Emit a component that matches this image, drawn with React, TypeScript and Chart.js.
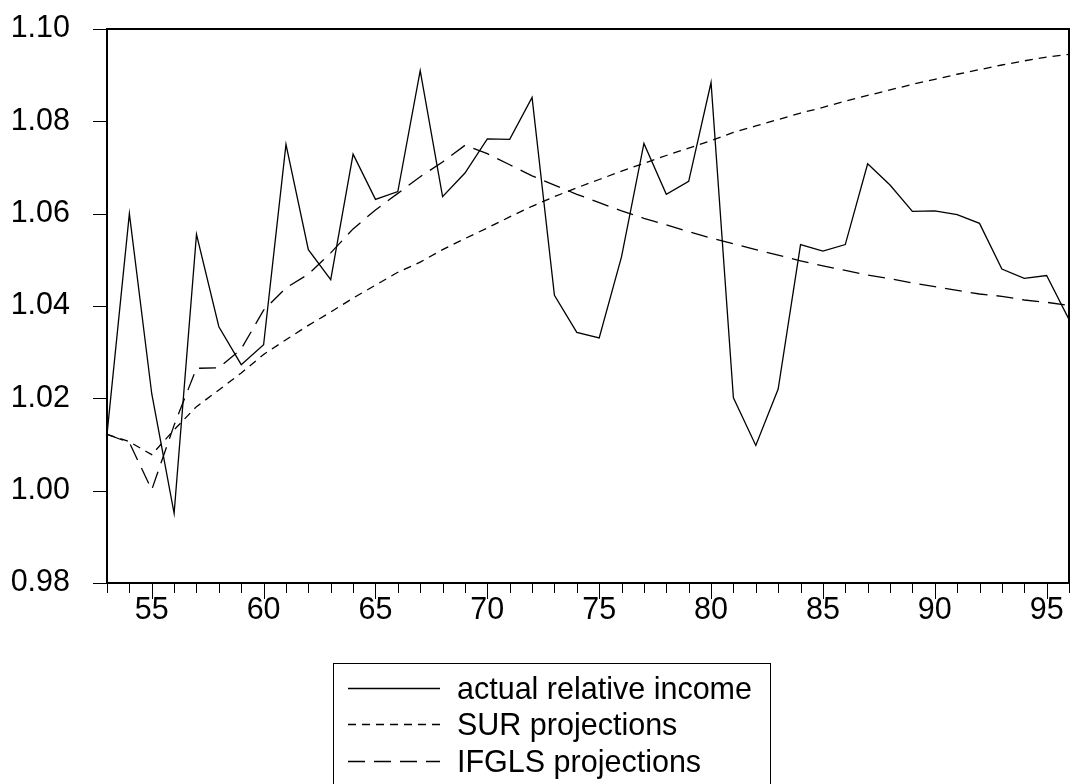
import React, { useEffect, useRef } from "react";
import { Chart, registerables } from "chart.js";

Chart.register(...registerables);

const years = [53, 54, 55, 56, 57, 58, 59, 60, 61, 62, 63, 64, 65, 66, 67, 68, 69, 70, 71, 72, 73, 74, 75, 76, 77, 78, 79, 80, 81, 82, 83, 84, 85, 86, 87, 88, 89, 90, 91, 92, 93, 94, 95, 96];

const actualRelativeIncome = [1.0122, 1.06, 1.021, 0.9951, 1.0555, 1.0355, 1.0273, 1.0316, 1.075, 1.0522, 1.0457, 1.0729, 1.0631, 1.0648, 1.091, 1.0637, 1.0688, 1.0762, 1.0761, 1.0852, 1.0423, 1.0343, 1.0331, 1.0507, 1.0752, 1.0642, 1.067, 1.0884, 1.0201, 1.0098, 1.022, 1.0533, 1.0519, 1.0533, 1.0708, 1.0662, 1.0605, 1.0606, 1.0598, 1.0579, 1.048, 1.046, 1.0466, 1.0371];

const surProjections = [1.0122, 1.0106, 1.0078, 1.0132, 1.0182, 1.0218, 1.0255, 1.0295, 1.0327, 1.0358, 1.0387, 1.0417, 1.0445, 1.0473, 1.0495, 1.0522, 1.0546, 1.0569, 1.0593, 1.0616, 1.0637, 1.0656, 1.0674, 1.0692, 1.0709, 1.0726, 1.0742, 1.0758, 1.0776, 1.079, 1.0804, 1.0818, 1.083, 1.0844, 1.0856, 1.0868, 1.088, 1.0891, 1.0902, 1.0912, 1.0922, 1.0931, 1.0939, 1.0945];

const ifglsProjections = [1.0122, 1.0104, 1.0002, 1.0142, 1.0265, 1.0266, 1.0307, 1.0391, 1.0439, 1.0469, 1.0515, 1.0567, 1.0608, 1.0644, 1.068, 1.0712, 1.0748, 1.073, 1.0706, 1.0682, 1.0662, 1.0642, 1.0624, 1.0606, 1.059, 1.0576, 1.0561, 1.0547, 1.0535, 1.0522, 1.051, 1.0498, 1.0487, 1.0477, 1.0467, 1.0459, 1.045, 1.0442, 1.0434, 1.0426, 1.0421, 1.0413, 1.0408, 1.0401];

const seriesLabels = ["actual relative income", "SUR projections", "IFGLS projections"];
const xTickLabels = [55, 60, 65, 70, 75, 80, 85, 90, 95];
const yTickLabels = [0.98, 1.0, 1.02, 1.04, 1.06, 1.08, 1.1];

const FONT_FAMILY = '"Liberation Sans", Arial, Helvetica, sans-serif';
const FONT_SIZE = 30.5;

const framePlugin = {
  id: "eviewsFrame",
  afterDraw(chart: any) {
    const ctx = chart.ctx as CanvasRenderingContext2D;
    const area = chart.chartArea;
    const xs = chart.scales.x;
    const ys = chart.scales.y;
    ctx.save();
    ctx.strokeStyle = "#000";
    ctx.lineWidth = 1;
    ctx.beginPath();
    for (const yr of years) {
      const px = Math.round(xs.getPixelForValue(yr)) + 0.5;
      const len = xTickLabels.includes(yr) ? 16 : 10;
      ctx.moveTo(px, area.bottom);
      ctx.lineTo(px, area.bottom + len);
    }
    for (const v of yTickLabels) {
      const py = Math.round(ys.getPixelForValue(v)) + 0.5;
      ctx.moveTo(area.left - 14, py);
      ctx.lineTo(area.left, py);
    }
    ctx.stroke();
    ctx.lineWidth = 2;
    ctx.strokeRect(area.left, area.top, area.right - area.left, area.bottom - area.top);

    // legend
    const boxLeft = 333.5;
    const boxTop = 663.5;
    const boxRight = 770.5;
    const boxBottom = 820;
    ctx.lineWidth = 1;
    ctx.strokeStyle = "#000";
    ctx.strokeRect(boxLeft, boxTop, boxRight - boxLeft, boxBottom - boxTop);
    const rowY = [688, 724, 761];
    chart.data.datasets.forEach((ds: any, i: number) => {
      const y = rowY[i] + 0.5;
      ctx.save();
      ctx.strokeStyle = ds.borderColor;
      ctx.lineWidth = ds.borderWidth;
      ctx.setLineDash(ds.borderDash || []);
      ctx.beginPath();
      ctx.moveTo(348, y);
      ctx.lineTo(440, y);
      ctx.stroke();
      ctx.restore();
      ctx.fillStyle = "#000";
      ctx.font = `${FONT_SIZE}px ${FONT_FAMILY}`;
      ctx.textBaseline = "middle";
      ctx.textAlign = "left";
      ctx.fillText(ds.label, 457, y + 2);
    });
    ctx.restore();
  },
};

export default function App() {
  const canvasRef = useRef<HTMLCanvasElement | null>(null);

  useEffect(() => {
    if (!canvasRef.current) return;
    const toPoints = (vals: number[]) => years.map((yr, i) => ({ x: yr, y: vals[i] }));
    const chart = new Chart(canvasRef.current, {
      type: "line",
      data: {
        datasets: [
          {
            label: seriesLabels[0],
            data: toPoints(actualRelativeIncome),
            borderColor: "#000",
            borderWidth: 1.3,
            pointRadius: 0,
            tension: 0,
            fill: false,
          },
          {
            label: seriesLabels[1],
            data: toPoints(surProjections),
            borderColor: "#000",
            borderWidth: 1.3,
            borderDash: [8, 6],
            pointRadius: 0,
            tension: 0,
            fill: false,
          },
          {
            label: seriesLabels[2],
            data: toPoints(ifglsProjections),
            borderColor: "#000",
            borderWidth: 1.3,
            borderDash: [17, 9],
            pointRadius: 0,
            tension: 0,
            fill: false,
          },
        ],
      },
      options: {
        animation: false,
        responsive: false,
        maintainAspectRatio: false,
        layout: { padding: { top: 29, right: 3, left: 0, bottom: 0 } },
        plugins: {
          legend: { display: false },
          tooltip: { enabled: false },
        },
        scales: {
          x: {
            type: "linear",
            min: 53,
            max: 96,
            afterBuildTicks: (s: any) => {
              s.ticks = xTickLabels.map((v) => ({ value: v }));
            },
            afterFit: (s: any) => {
              s.height = 201;
            },
            grid: { display: true, drawOnChartArea: false, drawTicks: true, tickLength: 9, tickColor: "rgba(0,0,0,0)" },
            border: { display: false },
            ticks: {
              autoSkip: false,
              maxRotation: 0,
              padding: 0,
              color: "#000",
              font: { family: FONT_FAMILY, size: FONT_SIZE },
              callback: (v: any) => String(v),
            },
          },
          y: {
            type: "linear",
            min: 0.98,
            max: 1.1,
            afterBuildTicks: (s: any) => {
              s.ticks = yTickLabels.map((v) => ({ value: v }));
            },
            afterFit: (s: any) => {
              s.width = 107;
            },
            grid: { display: true, drawOnChartArea: false, drawTicks: true, tickLength: 37, tickColor: "rgba(0,0,0,0)" },
            border: { display: false },
            ticks: {
              padding: 0,
              color: "#000",
              font: { family: FONT_FAMILY, size: FONT_SIZE },
              callback: (v: any) => Number(v).toFixed(2),
            },
          },
        },
      },
      plugins: [framePlugin],
    });
    return () => chart.destroy();
  }, []);

  return (
    <div style={{ position: "absolute", left: 0, top: 0, width: 1072, height: 784, background: "#fff", overflow: "hidden" }}>
      <canvas ref={canvasRef} width={1072} height={784} style={{ display: "block" }} />
    </div>
  );
}
